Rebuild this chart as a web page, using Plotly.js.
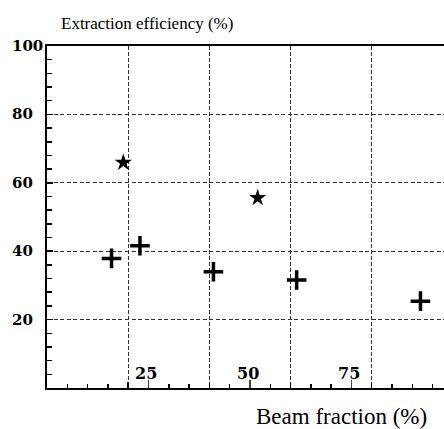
<!DOCTYPE html>
<html>
<head>
<meta charset="utf-8">
<script src="https://cdn.plot.ly/plotly-3.0.1.min.js"></script>
<style>html,body{margin:0;padding:0;background:#fff;}#chart{width:444px;height:429px;}</style>
</head>
<body>
<div id="chart"></div>
<script>
// Data
const starX = [18.8, 51.9];
const starY = [65.9, 55.6];
const plusX = [15.9, 22.9, 41.0, 61.5, 92.0];
const plusY = [37.9, 41.6, 34.0, 31.6, 25.4];

// Axis ticks / labels
const xGridVals = [20, 40, 60, 80];
const xLabelVals = [25, 50, 75];
const xLabelText = ['25', '50', '75'];
const yGridVals = [20, 40, 60, 80, 100];
const yLabelVals = [20, 40, 60, 80, 100];
const yLabelText = ['20', '40', '60', '80', '100'];

const xTitle = 'Beam fraction (%)';
const yTitle = 'Extraction efficiency (%)';

const serif = 'DejaVu Serif, serif';
const times = 'Liberation Serif, serif';

const traces = [
  {x: plusX, y: plusY, type: 'scatter', mode: 'markers', name: 'plus',
   marker: {symbol: 'cross-thin', size: 14, color: '#000', line: {width: 3.5, color: '#000'}},
   hoverinfo: 'x+y'},
  {x: starX, y: starY, type: 'scatter', mode: 'markers', name: 'star',
   marker: {symbol: 'star', size: 13, color: '#000', line: {width: 0}},
   hoverinfo: 'x+y'},
  {x: [], y: [], xaxis: 'x2', yaxis: 'y', type: 'scatter', mode: 'markers', showlegend: false}
];

const annotations = [];
yLabelVals.forEach((v, i) => annotations.push({
  xref: 'paper', yref: 'y', x: 0, y: v, xanchor: 'left', yanchor: 'middle',
  xshift: -37, text: yLabelText[i], showarrow: false,
  font: {family: serif, size: 15, color: '#000', weight: 'bold'}
}));
xLabelVals.forEach((v, i) => annotations.push({
  xref: 'x', yref: 'paper', x: v, y: 0, xanchor: 'center', yanchor: 'middle',
  yshift: 15, xshift: -2, text: xLabelText[i], showarrow: false,
  font: {family: serif, size: 16, color: '#000', weight: 'bold'}
}));
annotations.push({
  xref: 'paper', yref: 'paper', x: 1, y: 0, xanchor: 'right', yanchor: 'middle',
  xshift: -15, yshift: -28, text: xTitle, showarrow: false,
  font: {family: times, size: 23, color: '#000'}
});
annotations.push({
  xref: 'paper', yref: 'paper', x: 0, y: 1, xanchor: 'left', yanchor: 'middle',
  xshift: 12, yshift: 23, text: yTitle, showarrow: false,
  font: {family: times, size: 17, color: '#000'}
});

const layout = {
  width: 444, height: 429,
  margin: {l: 47, r: 0, t: 46, b: 41, pad: 0},
  paper_bgcolor: '#fff', plot_bgcolor: '#fff',
  showlegend: false,
  xaxis: {range: [0, 97.8], showline: true, linecolor: '#000', linewidth: 1.6, mirror: true,
          zeroline: false, tickmode: 'array', tickvals: xGridVals, showticklabels: false,
          ticks: 'inside', ticklen: 6, tickwidth: 1.5, tickcolor: '#000',
          showgrid: true, gridcolor: '#333', gridwidth: 1, griddash: '3.5px,2.5px',
          minor: {dtick: 5, tick0: 0, ticks: 'inside', ticklen: 4, tickwidth: 1.5, tickcolor: '#000', showgrid: false}},
  xaxis2: {range: [0, 97.8], overlaying: 'x', anchor: 'y', side: 'bottom', showline: false,
           zeroline: false, tickmode: 'array', tickvals: xLabelVals, showticklabels: false,
           ticks: 'inside', ticklen: 8, tickwidth: 1.2, tickcolor: '#444', showgrid: false},
  yaxis: {range: [0, 100], showline: true, linecolor: '#000', linewidth: 1.6, mirror: false,
          zeroline: false, tickmode: 'array', tickvals: yGridVals, showticklabels: false,
          ticks: 'inside', ticklen: 6, tickwidth: 1.5, tickcolor: '#000',
          showgrid: true, gridcolor: '#333', gridwidth: 1, griddash: '4px,2.5px',
          minor: {dtick: 4, tick0: 0, ticks: 'inside', ticklen: 5, tickwidth: 1.5, tickcolor: '#000', showgrid: false}},
  annotations: annotations
};

Plotly.newPlot('chart', traces, layout, {displayModeBar: false, staticPlot: true});
</script>
</body>
</html>
